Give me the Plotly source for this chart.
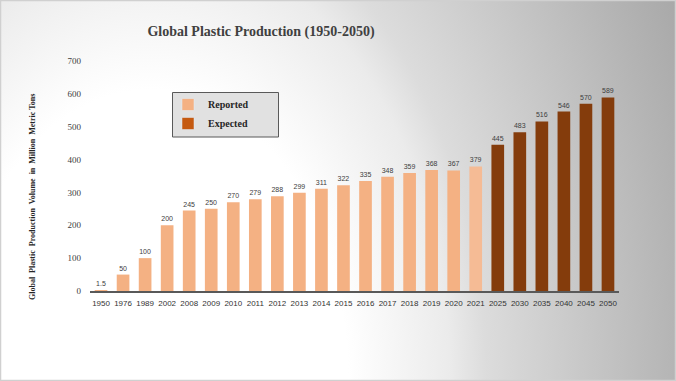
import base64
import plotly.graph_objects as go

# ---------------- data ----------------
reported_years = ["1950", "1976", "1989", "2002", "2008", "2009", "2010", "2011", "2012",
                  "2013", "2014", "2015", "2016", "2017", "2018", "2019", "2020", "2021"]
reported_values = [1.5, 50, 100, 200, 245, 250, 270, 279, 288, 299, 311, 322, 335, 348,
                   359, 368, 367, 379]
expected_years = ["2025", "2030", "2035", "2040", "2045", "2050"]
expected_values = [445, 483, 516, 546, 570, 589]
y_ticks = [0, 100, 200, 300, 400, 500, 600, 700]

title_text = "Global Plastic Production (1950-2050)"
y_title = ("Global\u00a0 Plastic\u00a0 Production\u00a0 Volume\u00a0 in\u00a0 "
           "Million\u00a0 Metric Tons")

# ---------------- style ----------------
W, H = 676, 381
ML, MR, MT, MB = 90, 57, 61, 90
PW, PH = W - ML - MR, H - MT - MB

REP_COLOR = "#F4B183"
REP_LAST = "#F5BB95"
EXP_COLOR = "#843C0C"
EXP_LEGEND = "#C55A11"
SERIF = "Liberation Serif, Times New Roman, serif"
SANS = "Liberation Sans, Arial, sans-serif"

rep_colors = [REP_COLOR] * (len(reported_values) - 1) + [REP_LAST]

# background gradient (SVG)
svg = f'''<svg xmlns="http://www.w3.org/2000/svg" width="{W}" height="{H}" viewBox="0 0 {W} {H}" preserveAspectRatio="none">
<defs>
<radialGradient id="g" gradientUnits="userSpaceOnUse" cx="150" cy="381" r="600"
 gradientTransform="translate(150 381) scale(1 1.47) translate(-150 -381)">
<stop offset="0" stop-color="#ffffff"/>
<stop offset="0.33" stop-color="#ffffff"/>
<stop offset="0.5" stop-color="#ebebeb"/>
<stop offset="0.56" stop-color="#dcdcdc"/>
<stop offset="0.88" stop-color="#b4b4b4"/>
<stop offset="1" stop-color="#a6a6a6"/>
</radialGradient>
</defs>
<rect x="0" y="0" width="{W}" height="{H}" fill="url(#g)"/>
<rect x="0.5" y="0.5" width="{W-1}" height="{H-1}" fill="none" stroke="#d0d0d0" stroke-width="1.5"/>
</svg>'''
bg_uri = "data:image/svg+xml;base64," + base64.b64encode(svg.encode()).decode()


def px_x(x):
    return (x - ML) / PW


def px_y(y):
    return (H - MB - y) / PH


fig = go.Figure()

fig.add_trace(go.Bar(
    x=reported_years, y=reported_values, name="Reported",
    marker=dict(color=rep_colors, line=dict(width=0)),
    text=[str(v) for v in reported_values], textposition="outside",
    textfont=dict(family=SANS, size=7, color="#404040"),
    cliponaxis=False, showlegend=False,
))
fig.add_trace(go.Bar(
    x=expected_years, y=expected_values, name="Expected",
    marker=dict(color=EXP_COLOR, line=dict(width=0)),
    text=[str(v) for v in expected_values], textposition="outside",
    textfont=dict(family=SANS, size=7, color="#404040"),
    cliponaxis=False, showlegend=False,
))
# legend entries (swatch colours as in the reference legend)
fig.add_trace(go.Bar(x=[None], y=[None], name="Reported", marker_color=REP_COLOR))
fig.add_trace(go.Bar(x=[None], y=[None], name="Expected", marker_color=EXP_LEGEND))

fig.update_layout(
    width=W, height=H,
    margin=dict(l=ML, r=MR, t=MT, b=MB, pad=0),
    paper_bgcolor="white", plot_bgcolor="rgba(0,0,0,0)",
    barmode="overlay", bargap=0.425,
    title=dict(text="<b>" + title_text + "</b>", x=px_x(261), xref="paper",
               xanchor="center", y=1 - 31 / H, yref="container", yanchor="middle",
               font=dict(family=SERIF, size=14, color="#404040")),
    xaxis=dict(type="category", categoryorder="array",
               categoryarray=reported_years + expected_years,
               showline=True, linecolor="#595959", linewidth=1.5,
               showgrid=False, zeroline=False, ticks="",
               tickfont=dict(family=SANS, size=8, color="#333333"),
               ticklabelstandoff=4),
    yaxis=dict(range=[0, 700], tickvals=y_ticks, showgrid=False, zeroline=False,
               showline=False, ticks="", ticklabelstandoff=8,
               tickfont=dict(family=SERIF, size=9, color="#404040")),
    legend=dict(x=px_x(168), y=px_y(90), xanchor="left", yanchor="top",
                bgcolor="rgba(0,0,0,0)", borderwidth=0,
                font=dict(family=SERIF, size=10, color="#262626", weight="bold")),
    images=[dict(source=bg_uri, xref="paper", yref="paper",
                 x=-ML / PW, y=1 + MT / PH, sizex=W / PW, sizey=H / PH,
                 xanchor="left", yanchor="top", sizing="stretch", layer="below")],
    shapes=[dict(type="rect", xref="paper", yref="paper",
                 x0=px_x(172.5), x1=px_x(278.5), y0=px_y(137), y1=px_y(92.5),
                 fillcolor="#e1e1e1", line=dict(color="#595959", width=1), layer="below")],
    annotations=[dict(text="<b>" + y_title + "</b>", textangle=-90,
                      xref="paper", yref="paper", x=px_x(33), y=px_y(197),
                      xanchor="center", yanchor="middle", showarrow=False,
                      font=dict(family=SERIF, size=8, color="#262626"))],
)

fig.write_html("out.html", config={"displayModeBar": False},
               post_script="document.body.style.margin='0';")
